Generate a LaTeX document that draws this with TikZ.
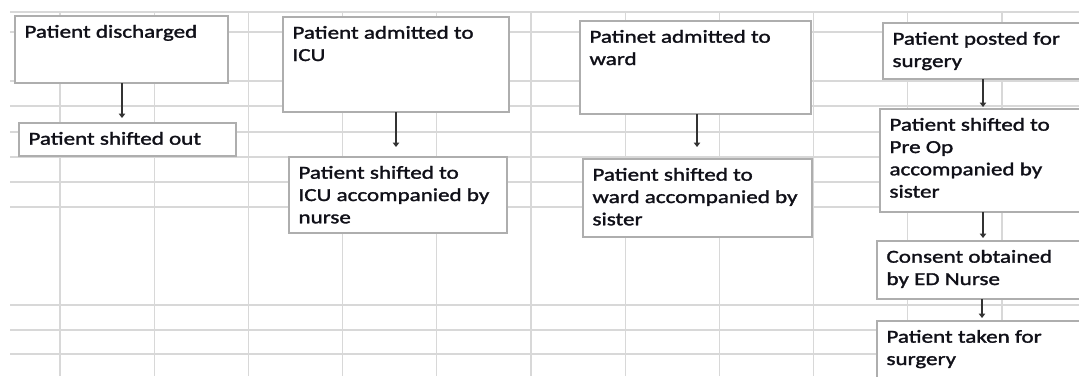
\documentclass[tikz,border=0pt]{standalone}
\usepackage{fontspec}
\setmainfont{Carlito}[FakeStretch=1.26,FakeBold=1.6]
\usetikzlibrary{arrows.meta}

\definecolor{gridgray}{HTML}{D8D8D8}
\definecolor{boxgray}{HTML}{AEAEAE}
\definecolor{arrowgray}{HTML}{333333}
\definecolor{ink}{HTML}{101018}

% text block of a cell: fixed height, first baseline 21.7pt below the top
\newcommand{\celltext}[3]{\parbox[t][#1][t]{#2}{\raggedright\rule{0pt}{21.7pt}\ignorespaces#3}}

\tikzset{
  gridline/.style={draw=gridgray, line width=1.3pt},
  stepbox/.style={draw=boxgray, line width=1.4pt, fill=white, anchor=north west,
    inner xsep=9.5pt, inner ysep=0pt, outer sep=0pt, text=ink,
    font=\fontsize{18.3}{22.3}\selectfont},
  arr/.style={draw=arrowgray, line width=1.6pt, -{Triangle[length=4.5pt,width=6.5pt]}}
}

\begin{document}
\begin{tikzpicture}[x=1pt,y=-1pt]
  \useasboundingbox (0,0) rectangle (1079,376);
  \fill[white] (0,0) rectangle (1079,376);

  % spreadsheet grid
  \foreach \y in {12,32,81,106,132,157,182,207,305,330,354}
    \draw[gridline] (10,\y) -- (1079,\y);
  \foreach \k in {0,...,10}
    \draw[gridline] ({60+94.2*\k},12) -- ({60+94.2*\k},376);

  % discharge column
  \node[stepbox] (b1) at (15,16)
    {\celltext{67pt}{194pt}{\mbox{Patient discharged}}};
  \node[stepbox] (b2) at (19,123)
    {\celltext{33pt}{198pt}{\mbox{Patient shifted out}}};

  % ICU column
  \node[stepbox] (b3) at (283,17)
    {\celltext{95pt}{207pt}{\mbox{Patient admitted to}\\\mbox{ICU}}};
  \node[stepbox] (b4) at (289,157)
    {\celltext{76pt}{199pt}{\mbox{Patient shifted to}\\\mbox{ICU accompanied by}\\\mbox{nurse}}};

  % ward column
  \node[stepbox] (b5) at (580,21)
    {\celltext{93pt}{212pt}{\mbox{Patinet admitted to}\\\mbox{ward}}};
  \node[stepbox] (b6) at (583,159)
    {\celltext{78pt}{210pt}{\mbox{Patient shifted to}\\\mbox{ward accompanied by}\\\mbox{sister}}};

  % surgery column
  \node[stepbox] (b7) at (883,23)
    {\celltext{56pt}{191pt}{\mbox{Patient posted for}\\\mbox{surgery}}};
  \node[stepbox] (b8) at (880,109)
    {\celltext{103pt}{194pt}{\mbox{Patient shifted to}\\\mbox{Pre Op}\\\mbox{accompanied by}\\\mbox{sister}}};
  \node[stepbox] (b9) at (877,241)
    {\celltext{58pt}{197pt}{\mbox{Consent obtained}\\\mbox{by ED Nurse}}};
  \node[stepbox] (b10) at (877,321)
    {\celltext{70pt}{197pt}{\mbox{Patient taken for}\\\mbox{surgery}}};

  % arrow tips
  \coordinate (t1) at (122,118);
  \coordinate (t2) at (396,147);
  \coordinate (t3) at (697,147);
  \coordinate (t4) at (983,107);
  \coordinate (t5) at (983,238);
  \coordinate (t6) at (982,318);

  \draw[arr] (b1.south -| t1) -- (t1);
  \draw[arr] (b3.south -| t2) -- (t2);
  \draw[arr] (b5.south -| t3) -- (t3);
  \draw[arr] (b7.south -| t4) -- (t4);
  \draw[arr] (b8.south -| t5) -- (t5);
  \draw[arr] (b9.south -| t6) -- (t6);
\end{tikzpicture}
\end{document}
